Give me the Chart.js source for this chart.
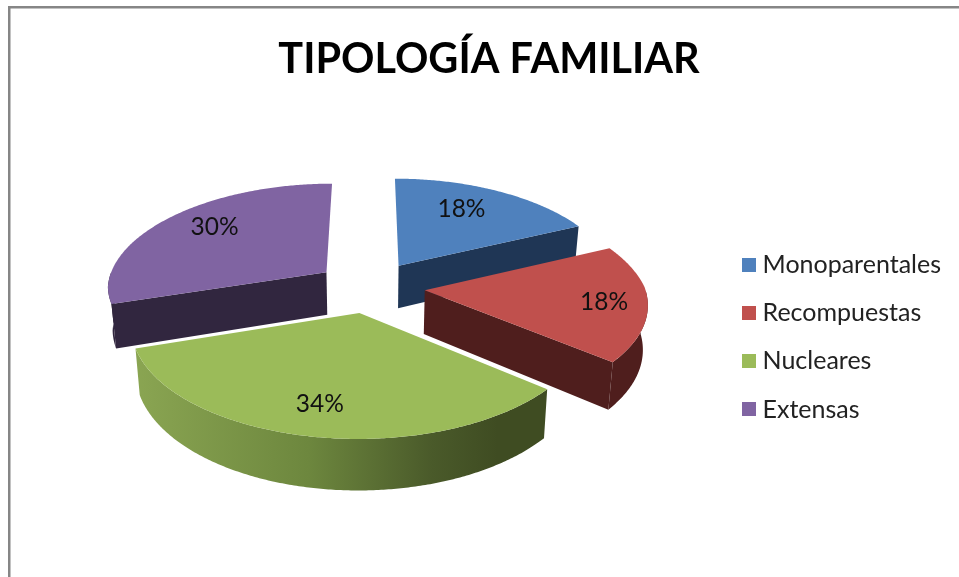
<!DOCTYPE html>
<html lang="es">
<head>
<meta charset="utf-8">
<title>Tipología familiar</title>
<script src="https://cdn.jsdelivr.net/npm/chart.js@4/dist/chart.umd.min.js"></script>
<style>
html,body{margin:0;padding:0;background:#fff;overflow:hidden}
canvas{display:block}
</style>
</head>
<body>
<canvas id="c" width="959" height="577"></canvas>
<script>
const categories = ['Monoparentales', 'Recompuestas', 'Nucleares', 'Extensas'];
const values = [18, 18, 34, 30];
const chartTitle = 'TIPOLOGÍA FAMILIAR';
const topColors = ['#4f81bd', '#c0504d', '#9bbb59', '#8064a2'];
const wallColors = ['#1f3655', '#4f1e1d', '#3f4c22', '#31263f'];
const labelReach = [0.72, 0.806, 0.758, 0.753];
const labelTurn = [-4.7, 0, 1, 4.6];

// Perspective view of the pie plane, applied to the angles of Chart.js's own arcs
const view = {cx: 370, cy: 287, a: 220, b: 103, p: 0.125, pxBack: 0.15, pxFront: 0.115, depth: 43.5, explode: 0.25, taper: 0.018};
const legendDrop = 34;

function project(mid, r, theta, z) {
  const u = view.explode * Math.sin(mid) + r * Math.sin(theta);
  const v = -view.explode * Math.cos(mid) - r * Math.cos(theta);
  const wy = 1 - view.p * v;
  const wx = 1 - (v < 0 ? view.pxBack : view.pxFront) * v;
  return [view.cx + (view.a * u / wx) * (1 - view.taper * z), view.cy + view.b * v / wy + z * view.depth / wy];
}

function fillPoly(ctx, pts, fill) {
  ctx.beginPath();
  pts.forEach((p, i) => i ? ctx.lineTo(p[0], p[1]) : ctx.moveTo(p[0], p[1]));
  ctx.closePath();
  ctx.fillStyle = fill;
  ctx.fill();
}

function rimAngles(from, to) {
  const out = [];
  const n = Math.max(2, Math.ceil((to - from) / 0.01));
  for (let i = 0; i <= n; i++) out.push(from + (to - from) * i / n);
  return out;
}

function swatch(color) {
  const c = document.createElement('canvas');
  c.width = 14;
  c.height = 14;
  const g = c.getContext('2d');
  g.fillStyle = color;
  g.fillRect(0, 0, 14, 14);
  return c;
}

const frame = {
  id: 'frame',
  afterLayout(chart) {
    chart.legend.top += legendDrop;
    chart.legend.bottom += legendDrop;
  },
  beforeDraw(chart) {
    const c = chart.ctx;
    c.save();
    c.fillStyle = '#868686';
    c.fillRect(8, 6, 951, 2.5);
    c.fillRect(8, 6, 2.5, 571);
    c.restore();
  }
};

const pie3d = {
  id: 'pie3d',
  beforeDatasetsDraw(chart) {
    const ctx = chart.ctx;
    const arcs = chart.getDatasetMeta(0).data.map((el, i) => {
      const s = el.startAngle + Math.PI / 2, e = el.endAngle + Math.PI / 2;
      return {i, s, e, m: (s + e) / 2};
    });
    arcs.sort((p, q) => Math.cos(q.m) - Math.cos(p.m));
    arcs.forEach(({i, s, e, m}) => {
      const wall = wallColors[i];
      // Only the cut faces turned towards the viewer
      [[s, -Math.sin(s)], [e, Math.sin(e)]].forEach(([t, facing]) => {
        if (facing > 0.1) {
          fillPoly(ctx, [project(m, 0, t, 0), project(m, 1, t, 0), project(m, 1, t, 1), project(m, 0, t, 1)], wall);
        }
      });
      // Front-facing part of the curved wall
      const from = Math.max(s, Math.PI / 2), to = Math.min(e, 3 * Math.PI / 2);
      if (to > from) {
        const angles = rimAngles(from, to);
        const upper = angles.map(t => project(m, 1, t, 0));
        const lower = angles.map(t => project(m, 1, t, 1)).reverse();
        const pts = upper.concat(lower);
        const xs = pts.map(p => p[0]);
        const x0 = Math.min(...xs), x1 = Math.max(...xs);
        let fill = wall;
        if (i === 2) {
          fill = ctx.createLinearGradient(x0, 0, x1, 0);
          fill.addColorStop(0, '#8aa552');
          fill.addColorStop(0.42, '#6d873e');
          fill.addColorStop(0.72, '#4a5a2a');
          fill.addColorStop(0.88, '#3f4c22');
          fill.addColorStop(1, '#3f4c22');
        }
        fillPoly(ctx, pts, fill);
      }
      const top = [project(m, 0, s, 0)].concat(rimAngles(s, e).map(t => project(m, 1, t, 0)));
      fillPoly(ctx, top, topColors[i]);
    });
    ctx.save();
    ctx.fillStyle = '#111';
    ctx.font = '24.5px Lato';
    ctx.textAlign = 'center';
    ctx.textBaseline = 'middle';
    arcs.forEach(({i, m}) => {
      const p = project(m, labelReach[i], m + labelTurn[i] * Math.PI / 180, 0);
      ctx.fillText(values[i] + '%', p[0], p[1] + 1);
    });
    ctx.restore();
    return false;
  }
};

new Chart(document.getElementById('c'), {
  type: 'pie',
  data: {
    labels: categories,
    datasets: [{data: values, backgroundColor: topColors, borderWidth: 0}]
  },
  plugins: [frame, pie3d],
  options: {
    responsive: false,
    animation: false,
    rotation: 0,
    layout: {padding: {left: 27, right: 8, top: 29, bottom: 0}},
    plugins: {
      tooltip: {enabled: false},
      title: {
        display: true,
        text: chartTitle,
        color: '#000',
        font: {family: 'Lato', size: 41.4, weight: 'bold'},
        padding: {top: 6, bottom: 150}
      },
      legend: {
        position: 'right',
        labels: {
          color: '#222',
          font: {family: 'Lato', size: 25},
          usePointStyle: true,
          pointStyleWidth: 3,
          boxHeight: 14,
          padding: 23.3,
          generateLabels(chart) {
            return Chart.overrides.pie.plugins.legend.labels.generateLabels(chart).map((item, i) => ({
              ...item,
              pointStyle: swatch(topColors[i])
            }));
          }
        }
      }
    }
  }
});
</script>
</body>
</html>
